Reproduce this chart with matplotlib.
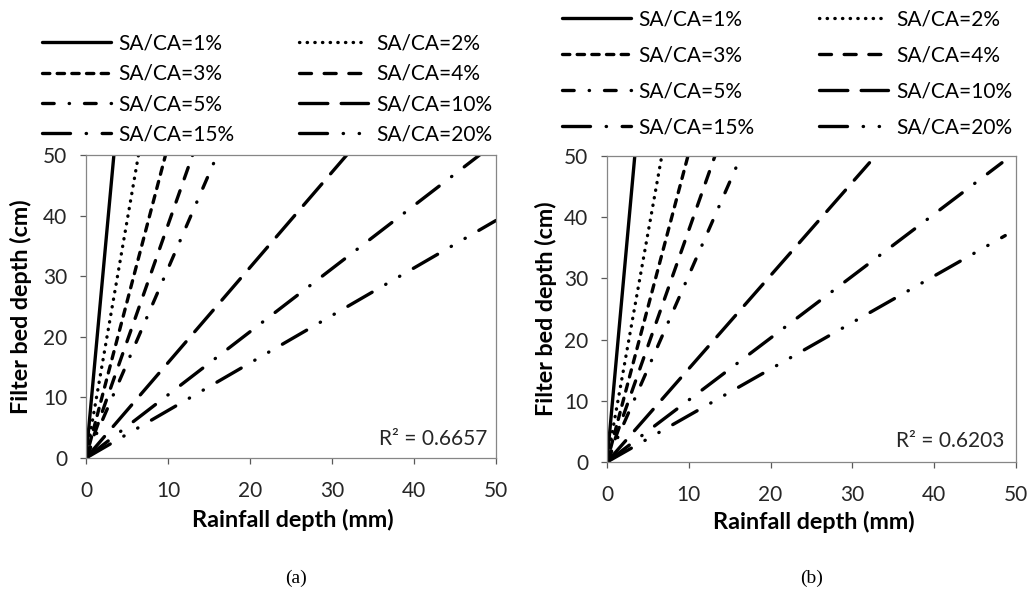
import matplotlib
matplotlib.use("Agg")
import matplotlib.pyplot as plt

plt.rcParams['font.family'] = ['Lato', 'DejaVu Sans']

# ------------------------------------------------------------------
# Data (line end points, all start at origin)
# ------------------------------------------------------------------
ratios = ["1%", "2%", "3%", "4%", "5%", "10%", "15%", "20%"]

rain_start = [0, 0, 0, 0, 0, 0, 0, 0]
depth_start = [0, 0, 0, 0, 0, 0, 0, 0]

# panel (a)
rain_end_a = [3.4, 6.4, 9.7, 13.0, 16.0, 31.8, 48.0, 50.0]
depth_end_a = [50, 50, 50, 50, 50, 50, 50, 39.2]

# panel (b)
rain_end_b = [3.4, 6.7, 9.9, 13.2, 16.4, 32.1, 48.3, 48.7]
depth_end_b = [50, 50, 50, 50, 50, 48.9, 48.9, 37.0]

r2_a = "R\u00b2 = 0.6657"
r2_b = "R\u00b2 = 0.6203"

# Excel-like dash patterns (round caps), in units of line width
DOT = 0.1
styles = [
    "-",
    (0, (DOT, 2.2)),
    (0, (2.2, 2.2)),
    (0, (3.6, 3.8)),
    (0, (3.5, 4.5, DOT, 4.5)),
    (0, (8.5, 4.0)),
    (0, (8.4, 4.7, DOT, 4.7)),
    (0, (8.4, 4.7, DOT, 4.7, DOT, 4.7)),
]

LW = 2.4
FS = 15
FS_LAB = 16.8


def draw_panel(ax, rain_end, depth_end, r2, ylab_x, xlab_y, r2_pos, leg_anchor, leg_spacing):
    handles = []
    for i, lab in enumerate(ratios):
        ln, = ax.plot([rain_start[i], rain_end[i]], [depth_start[i], depth_end[i]],
                      color="black", lw=LW, linestyle=styles[i],
                      solid_capstyle="round", dash_capstyle="round",
                      label=f"SA/CA={lab}")
        handles.append(ln)

    ax.set_xlim(0, 50)
    ax.set_ylim(0, 50)
    ax.set_xticks([0, 10, 20, 30, 40, 50])
    ax.set_yticks([0, 10, 20, 30, 40, 50])
    for sp in ax.spines.values():
        sp.set_color("#868686")
        sp.set_linewidth(0.9)
    ax.tick_params(axis="both", direction="out", length=4.5, width=0.9,
                   color="#595959", labelsize=FS, labelcolor="#262626")
    ax.tick_params(axis="x", pad=12)
    ax.tick_params(axis="y", pad=9)

    ax.set_ylabel("Filter bed depth (cm)", fontsize=FS_LAB, fontweight="bold")
    ax.set_xlabel("Rainfall depth (mm)", fontsize=FS_LAB, fontweight="bold")
    ax.yaxis.set_label_coords(ylab_x, 0.5)
    ax.xaxis.set_label_coords(0.505, xlab_y)

    ax.text(r2_pos[0], r2_pos[1], r2, transform=ax.transAxes,
            ha="right", va="center", fontsize=FS, color="#262626")

    order = [0, 2, 4, 6, 1, 3, 5, 7]
    ax.legend([handles[k] for k in order], [handles[k].get_label() for k in order],
              ncol=2, loc="upper left", bbox_to_anchor=leg_anchor,
              bbox_transform=ax.figure.transFigure, frameon=False,
              fontsize=FS, handlelength=3.3, handletextpad=0.38,
              columnspacing=3.1, labelspacing=leg_spacing,
              borderpad=0, borderaxespad=0)


fig = plt.figure(figsize=(10.3, 5.97), dpi=100)
ax_a = fig.add_axes([0.0835, 0.2328, 0.398, 0.5075])
ax_b = fig.add_axes([0.5893, 0.2261, 0.397, 0.5126])

draw_panel(ax_a, rain_end_a, depth_end_a, r2_a, -0.132, -0.168,
           (0.978, 0.063), (0.0408, 0.944), 0.50)
draw_panel(ax_b, rain_end_b, depth_end_b, r2_b, -0.122, -0.161,
           (0.973, 0.069), (0.5456, 0.984), 0.77)

fig.text(0.287, 0.032, "(a)", ha="center", va="center",
         fontsize=14, family="Liberation Serif")
fig.text(0.788, 0.032, "(b)", ha="center", va="center",
         fontsize=14, family="Liberation Serif")

fig.savefig("out.png", dpi=100)
